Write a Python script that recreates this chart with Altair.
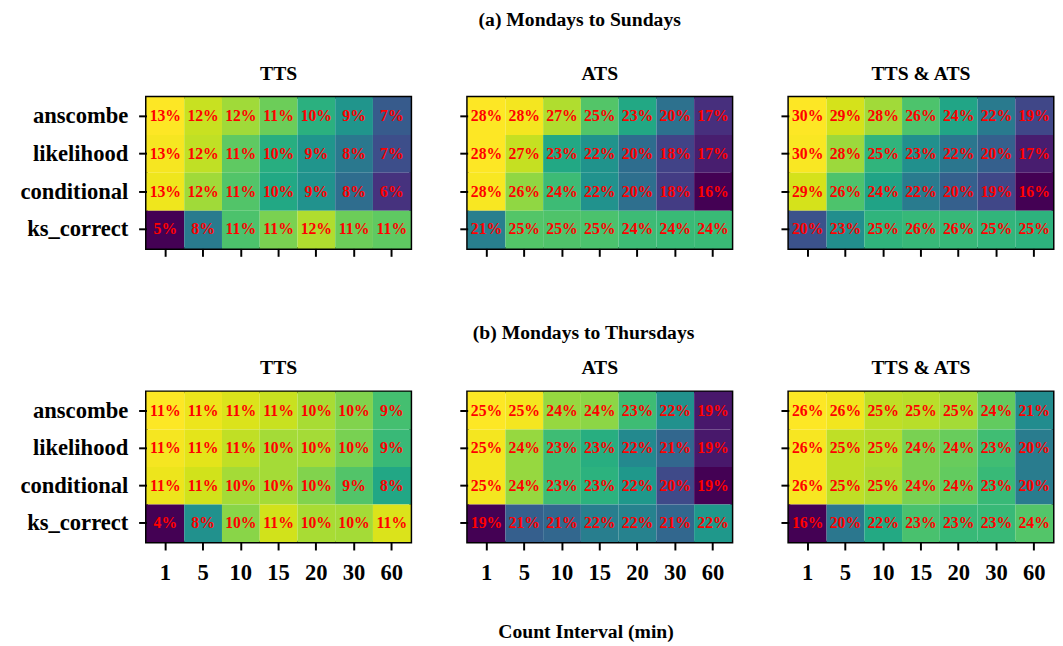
import altair as alt
import pandas as pd

methods = ["anscombe", "likelihood", "conditional", "ks_correct"]
intervals = ["1", "5", "10", "15", "20", "30", "60"]

panel_titles = ["TTS", "ATS", "TTS & ATS"]
section_titles = ["(a) Mondays to Sundays", "(b) Mondays to Thursdays"]
x_title = "Count Interval (min)"

# (a) Mondays to Sundays  (rows follow `methods`, columns follow `intervals`, %)
tts_week = [
    [13.1, 12.4, 11.9, 11.2, 10.0, 9.0, 7.0],
    [13.0, 12.3, 11.0, 9.9, 9.0, 8.0, 6.6],
    [12.9, 11.9, 10.8, 9.7, 8.9, 7.6, 5.8],
    [4.6, 8.1, 10.7, 11.4, 12.1, 11.2, 11.0],
]
ats_week = [
    [28.4, 28.2, 26.9, 25.0, 23.3, 20.4, 17.4],
    [28.4, 27.3, 23.3, 22.2, 20.2, 18.2, 16.7],
    [28.3, 26.3, 24.4, 22.1, 20.3, 17.9, 15.7],
    [21.1, 25.0, 24.9, 24.8, 24.4, 24.3, 24.3],
]
both_week = [
    [30.3, 29.4, 28.3, 26.3, 24.4, 21.8, 19.0],
    [30.2, 28.2, 25.3, 23.1, 21.6, 20.3, 17.1],
    [29.4, 26.3, 24.3, 21.9, 20.3, 19.0, 16.0],
    [19.6, 23.0, 25.3, 25.6, 25.6, 25.4, 25.2],
]

# (b) Mondays to Thursdays
tts_weekday = [
    [11.4, 11.2, 11.0, 10.8, 10.45, 10.0, 9.2],
    [11.3, 11.1, 10.7, 10.4, 10.4, 9.9, 9.0],
    [11.2, 10.9, 10.4, 10.4, 10.0, 9.4, 8.4],
    [4.0, 7.7, 10.1, 10.9, 10.45, 10.4, 11.0],
]
ats_weekday = [
    [25.4, 25.3, 24.4, 24.3, 23.4, 22.2, 19.4],
    [25.3, 24.4, 23.4, 23.0, 22.0, 21.1, 19.4],
    [25.3, 24.4, 23.4, 23.1, 22.4, 20.4, 19.0],
    [19.0, 20.9, 21.1, 21.7, 21.8, 21.1, 22.4],
]
both_weekday = [
    [26.4, 26.2, 25.4, 25.3, 25.0, 23.9, 21.0],
    [26.3, 25.4, 25.2, 24.3, 24.0, 23.2, 20.3],
    [26.3, 25.4, 25.1, 24.3, 23.9, 23.0, 20.3],
    [16.0, 20.1, 22.3, 23.4, 23.0, 23.0, 23.6],
]

FONT = "Liberation Serif"
PW = 269


def make_df(grid):
    rows = []
    for m, vals in zip(methods, grid):
        for i, v in zip(intervals, vals):
            rows.append({"method": m, "interval": i, "value": v,
                         "label": f"{int(v + 0.5)}%"})
    return pd.DataFrame(rows)


def panel(grid, title, show_y, show_x, height, with_xtitle=False):
    df = make_df(grid)
    xaxis_kw = dict(labels=show_x, labelAngle=0, labelPadding=12, title=None)
    if with_xtitle:
        xaxis_kw.update(title=x_title, titleX=120, titleY=97,
                        titleBaseline="alphabetic", titleAlign="center",
                        titleAnchor="start",
                        titleFont=FONT, titleFontSize=20, titleFontWeight="bold",
                        titleColor="black")
    base = alt.Chart(df).encode(
        x=alt.X("interval:N", sort=intervals,
                scale=alt.Scale(paddingInner=0, paddingOuter=0),
                axis=alt.Axis(**xaxis_kw)),
        y=alt.Y("method:N", sort=methods,
                scale=alt.Scale(paddingInner=0, paddingOuter=0),
                axis=alt.Axis(labels=show_y, labelPadding=11, title=None)),
    )
    rect = base.mark_rect().encode(
        color=alt.Color("value:Q",
                        scale=alt.Scale(scheme="viridis", zero=False, nice=False),
                        legend=None)
    )
    text = base.mark_text(color="red", font=FONT, fontWeight="bold",
                          fontSize=16, baseline="middle").encode(text="label:N")
    return alt.layer(rect, text).properties(
        width=PW, height=height,
        title=alt.TitleParams(title, font=FONT, fontSize=20,
                              fontWeight="bold", color="black",
                              baseline="alphabetic", offset=-2),
    )


row_a = alt.hconcat(
    panel(tts_week, panel_titles[0], True, False, 154),
    panel(ats_week, panel_titles[1], False, False, 154),
    panel(both_week, panel_titles[2], False, False, 154),
    spacing=45,
    title=alt.TitleParams(section_titles[0], font=FONT, fontSize=20,
                          fontWeight="bold", color="black", anchor="middle",
                          baseline="alphabetic", offset=17, dx=44),
).resolve_scale(color="independent")

row_b = alt.hconcat(
    panel(tts_weekday, panel_titles[0], True, True, 153),
    panel(ats_weekday, panel_titles[1], False, True, 153, with_xtitle=True),
    panel(both_weekday, panel_titles[2], False, True, 153),
    spacing=45,
    title=alt.TitleParams(section_titles[1], font=FONT, fontSize=20,
                          fontWeight="bold", color="black", anchor="middle",
                          baseline="alphabetic", offset=-2, dx=48),
).resolve_scale(color="independent")

chart = alt.vconcat(row_a, row_b, spacing=65).properties(
    padding={"left": 10, "top": -4, "right": 0, "bottom": 0}
).configure_view(
    stroke="black", strokeWidth=3
).configure_axis(
    domain=False, grid=False, ticks=True, tickSize=8, tickWidth=2,
    tickColor="black", labelFont=FONT, labelFontSize=23,
    labelFontWeight="bold", labelColor="black"
).configure_concat(spacing=45)

chart.save("out.html", embed_options={"renderer": "svg", "actions": False})
